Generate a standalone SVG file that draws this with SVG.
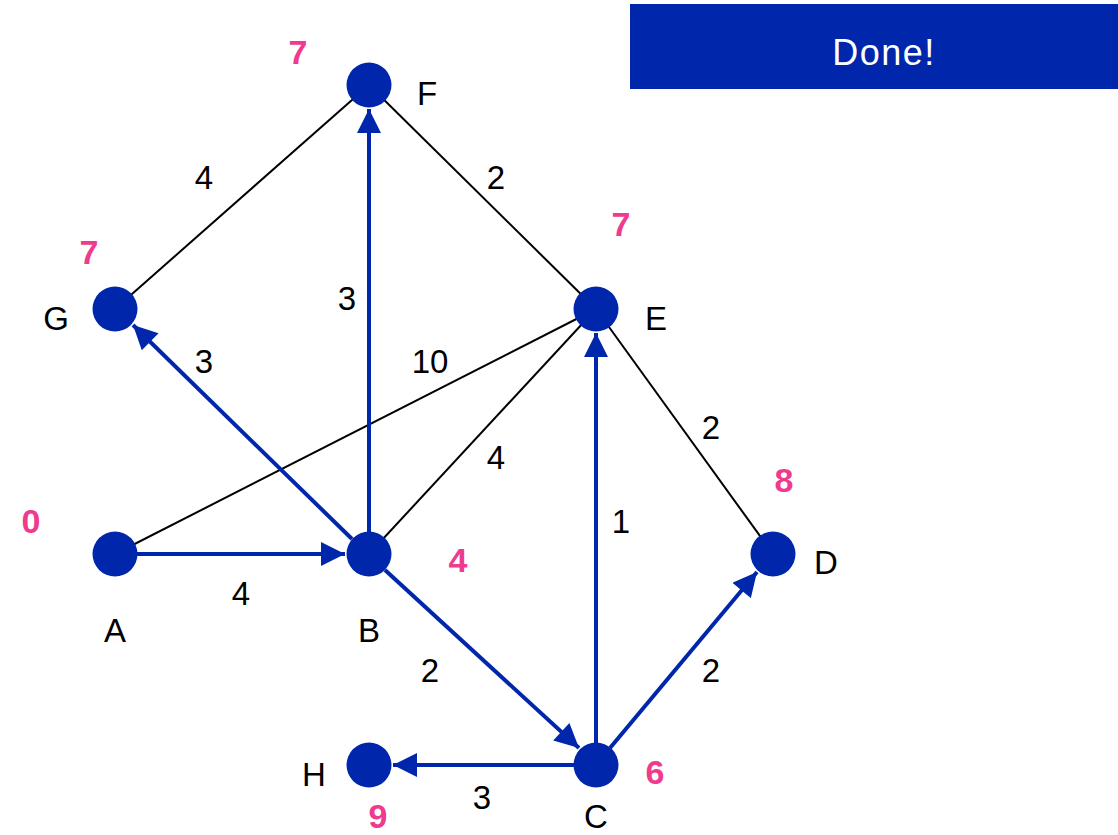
<svg xmlns="http://www.w3.org/2000/svg" width="1118" height="835" viewBox="0 0 1118 835">
<style>
.n{fill:#0027AB}
.e{stroke:#000;stroke-width:2;fill:none}
.t{stroke:#0027AB;stroke-width:4;fill:none;marker-end:url(#ah)}
.l{font-family:"Liberation Sans",Arial,sans-serif;font-size:33px;fill:#000;text-anchor:middle;dominant-baseline:central}
.p{font-family:"Liberation Sans",Arial,sans-serif;font-size:34px;font-weight:bold;fill:#EE3A8F;text-anchor:middle;dominant-baseline:central}
</style>
<defs>
<marker id="ah" viewBox="0 0 10 10" refX="10" refY="5" markerWidth="6.5" markerHeight="6" markerUnits="strokeWidth" orient="auto">
<path d="M0,0 L10,5 L0,10 Z" fill="#0027AB"/>
</marker>
</defs>
<rect x="630" y="4" width="488" height="85" fill="#0027AB"/>
<text x="884" y="52" font-family="Liberation Sans,Arial,sans-serif" font-size="36" fill="#fff" text-anchor="middle" dominant-baseline="central" letter-spacing="1.5">Done!</text>
<g id="connectors">
<line class="e" x1="369" y1="85" x2="115" y2="309"/>
<line class="e" x1="369" y1="85" x2="596" y2="309"/>
<line class="e" x1="115" y1="554" x2="596" y2="309"/>
<line class="e" x1="369" y1="554" x2="596" y2="309"/>
<line class="e" x1="596" y1="309" x2="773" y2="554"/>
<line class="t" x1="137" y1="554" x2="345" y2="554"/>
<line class="t" x1="369" y1="532" x2="369" y2="109"/>
<line class="t" x1="352" y1="539" x2="133" y2="325"/>
<line class="t" x1="385" y1="570" x2="579" y2="748"/>
<line class="t" x1="596" y1="743" x2="596" y2="333"/>
<line class="t" x1="610" y1="748" x2="757" y2="572"/>
<line class="t" x1="574" y1="765" x2="393" y2="765"/>
</g>
<g id="F"><circle class="n" cx="369" cy="85" r="22.5"/><text class="l" x="427" y="93">F</text><text class="p" x="298" y="52">7</text></g>
<g id="G"><circle class="n" cx="115" cy="309" r="22.5"/><text class="l" x="56" y="318">G</text><text class="p" x="89" y="252">7</text></g>
<g id="E"><circle class="n" cx="596" cy="309" r="22.5"/><text class="l" x="656" y="318">E</text><text class="p" x="621" y="224">7</text></g>
<g id="A"><circle class="n" cx="115" cy="554" r="22.5"/><text class="l" x="115" y="630">A</text><text class="p" x="31" y="521">0</text></g>
<g id="B"><circle class="n" cx="369" cy="554" r="22.5"/><text class="l" x="369" y="630">B</text><text class="p" x="458" y="560">4</text></g>
<g id="D"><circle class="n" cx="773" cy="554" r="22.5"/><text class="l" x="826" y="562">D</text><text class="p" x="784" y="480">8</text></g>
<g id="C"><circle class="n" cx="596" cy="765" r="22.5"/><text class="l" x="596" y="816">C</text><text class="p" x="655" y="772">6</text></g>
<g id="H"><circle class="n" cx="369" cy="765" r="22.5"/><text class="l" x="314" y="774">H</text><text class="p" x="378" y="816">9</text></g>
<g id="weights">
<text class="l" x="204" y="177">4</text>
<text class="l" x="496" y="177">2</text>
<text class="l" x="347" y="298">3</text>
<text class="l" x="204" y="361">3</text>
<text class="l" x="430" y="361">10</text>
<text class="l" x="711" y="427">2</text>
<text class="l" x="496" y="457">4</text>
<text class="l" x="621" y="521">1</text>
<text class="l" x="241" y="593">4</text>
<text class="l" x="430" y="670">2</text>
<text class="l" x="711" y="670">2</text>
<text class="l" x="482" y="797">3</text>
</g>
</svg>
